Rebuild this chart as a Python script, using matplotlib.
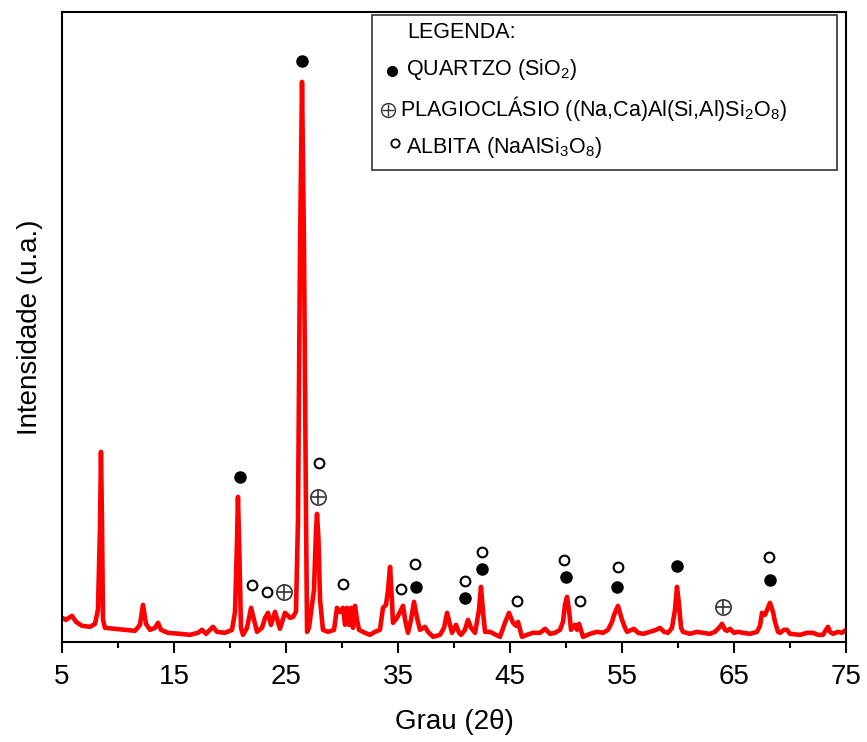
import numpy as np
import matplotlib
matplotlib.use('Agg')
import matplotlib.pyplot as plt
from matplotlib.patches import Rectangle

plt.rcParams['font.family'] = ['Liberation Sans', 'DejaVu Sans']
plt.rcParams['mathtext.fontset'] = 'custom'
plt.rcParams['mathtext.rm'] = 'Liberation Sans'
plt.rcParams['mathtext.it'] = 'Liberation Sans:italic'

# difratograma (2theta, intensidade u.a.)
two_theta = [5.0, 5.36, 5.89, 6.25, 6.79, 7.5, 7.95, 8.21, 8.39, 8.48, 8.57, 8.66, 8.84, 9.73,
             10.63, 11.52, 11.96, 12.23, 12.5, 12.86, 13.3, 13.57, 13.84, 14.46, 15.54, 16.43,
             17.14, 17.5, 17.86, 18.48, 18.84, 19.55, 20.18, 20.45, 20.63, 20.71, 20.85, 20.98,
             21.16, 21.52, 21.88, 22.14, 22.41, 22.86, 23.13, 23.39, 23.66, 24.02, 24.46, 24.91,
             25.36, 25.63, 25.89, 26.07, 26.25, 26.43, 26.61, 26.79, 26.88, 27.05, 27.32, 27.5,
             27.68, 27.77, 27.9, 28.04, 28.3, 28.75, 29.29, 29.55, 29.82, 30.09, 30.27, 30.45,
             30.63, 30.8, 30.98, 31.16, 31.34, 31.52, 32.05, 32.5, 32.95, 33.39, 33.66, 33.93,
             34.11, 34.29, 34.46, 34.55, 34.91, 35.18, 35.45, 35.63, 35.89, 36.16, 36.43, 36.7,
             36.96, 37.41, 37.68, 38.13, 38.75, 39.11, 39.38, 39.64, 39.82, 40.18, 40.45, 40.63,
             40.98, 41.25, 41.52, 41.88, 42.23, 42.41, 42.59, 42.77, 43.21, 43.75, 44.11, 44.55,
             44.91, 45.27, 45.54, 45.71, 46.07, 46.52, 47.05, 47.68, 48.13, 48.57, 49.02, 49.46,
             49.73, 49.91, 50.09, 50.27, 50.45, 50.8, 50.98, 51.16, 51.52, 52.14, 52.77, 53.3,
             53.75, 54.11, 54.29, 54.64, 55.0, 55.27, 55.45, 56.07, 56.43, 56.88, 57.5, 58.04,
             58.39, 58.75, 59.11, 59.46, 59.73, 59.91, 60.09, 60.27, 60.45, 61.07, 61.7, 62.23,
             62.86, 63.3, 63.66, 63.93, 64.2, 64.38, 64.64, 65.0, 65.36, 65.8, 66.43, 67.05,
             67.32, 67.5, 67.77, 67.95, 68.21, 68.48, 68.66, 68.93, 69.11, 69.46, 69.73, 70.0,
             70.89, 71.52, 72.05, 72.5, 72.95, 73.21, 73.39, 73.57, 73.84, 74.29, 74.64, 75.0]
intensity = [24, 22, 26, 20, 16, 15, 18, 32, 112, 190, 122, 22, 14, 13,
             12, 11, 17, 37, 18, 12, 14, 19, 12, 9, 8, 7,
             9, 12, 8, 15, 10, 9, 12, 30, 102, 145, 82, 14,
             7, 14, 34, 22, 10, 14, 24, 29, 17, 30, 13, 29,
             24, 25, 30, 122, 392, 560, 392, 122, 10, 14, 37, 52,
             112, 128, 102, 42, 12, 10, 12, 34, 30, 34, 17, 34,
             17, 34, 14, 36, 22, 12, 9, 7, 10, 12, 34, 37,
             52, 75, 42, 19, 24, 30, 36, 22, 9, 22, 40, 24,
             12, 15, 10, 5, 7, 14, 29, 17, 9, 17, 9, 7,
             12, 22, 14, 9, 32, 55, 30, 10, 10, 7, 5, 19,
             29, 19, 16, 20, 5, 7, 9, 9, 13, 8, 9, 12,
             20, 37, 45, 32, 12, 17, 12, 18, 5, 8, 10, 9,
             12, 20, 27, 36, 22, 14, 10, 13, 9, 8, 10, 12,
             14, 10, 9, 14, 32, 55, 37, 14, 10, 8, 10, 9,
             8, 10, 14, 18, 12, 11, 13, 9, 10, 9, 8, 10,
             16, 29, 27, 32, 39, 30, 20, 10, 9, 12, 12, 8,
             7, 9, 9, 7, 7, 12, 15, 10, 8, 10, 9, 12]

# picos identificados
quartzo_x = [20.89, 26.43, 36.61, 40.98, 42.5, 50.0, 54.55, 59.91, 68.21]
quartzo_y = [165, 581, 55, 44, 73, 65, 55, 76, 62]
albita_x = [21.96, 23.30, 27.95, 30.09, 35.27, 36.52, 40.98, 42.5, 45.63, 49.82, 51.25, 54.64, 68.13]
albita_y = [57, 50, 179, 58, 53, 78, 61, 90, 41, 82, 41, 75, 85]
plagio_x = [24.82, 27.86, 64.02]
plagio_y = [50, 145, 35]

fig = plt.figure(figsize=(8.67, 7.42), dpi=100)
ax = fig.add_axes([0.0715, 0.135, 0.9043, 0.849])

ax.plot(two_theta, intensity, color='red', lw=3.3, solid_joinstyle='round')

ax.plot(quartzo_x, quartzo_y, 'o', color='black', ms=8)
ax.plot(albita_x, albita_y, 'o', mfc='white', mec='black', ms=7, mew=1.5)
ax.plot(plagio_x, plagio_y, 'o', mfc='white', mec='#333333', ms=11, mew=1.2)
ax.plot(plagio_x, plagio_y, '+', color='#333333', ms=10, mew=1.2)

ax.set_xlim(5, 75)
ax.set_ylim(0, 630)
ax.set_xticks(np.arange(5, 76, 10))
ax.set_xticks(np.arange(10, 75, 10), minor=True)
ax.set_yticks([])
ax.tick_params(axis='x', which='major', direction='out', length=8, width=1.5, labelsize=20, pad=8)
ax.tick_params(axis='x', which='minor', direction='out', length=4, width=1.5)
for s in ax.spines.values():
    s.set_linewidth(1.5)

ax.set_xlabel('Grau (2θ)', fontsize=20, labelpad=14)
ax.set_ylabel('Intensidade (u.a.)', fontsize=20, labelpad=14)

# caixa de legenda
ax.add_patch(Rectangle((0.395, 0.749), 0.5935, 0.246, transform=ax.transAxes,
                       fill=False, ec='#333333', lw=1.2, clip_on=False))
ax.text(0.441, 0.968, 'LEGENDA:', transform=ax.transAxes, fontsize=15.5, va='center')
ax.plot([0.421], [0.906], 'o', color='black', ms=7, transform=ax.transAxes, clip_on=False)
ax.text(0.439, 0.908, 'QUARTZO (SiO$_2$)', transform=ax.transAxes, fontsize=15.5, va='center')
ax.plot([0.416], [0.844], 'o', mfc='white', mec='#333333', ms=10, mew=1,
        transform=ax.transAxes, clip_on=False)
ax.plot([0.416], [0.844], '+', color='#333333', ms=9, mew=1, transform=ax.transAxes, clip_on=False)
ax.text(0.431, 0.846, 'PLAGIOCLÁSIO ((Na,Ca)Al(Si,Al)Si$_2$O$_8$)', transform=ax.transAxes,
        fontsize=15.5, va='center')
ax.plot([0.425], [0.792], 'o', mfc='white', mec='black', ms=6, mew=1.3,
        transform=ax.transAxes, clip_on=False)
ax.text(0.439, 0.784, 'ALBITA (NaAlSi$_3$O$_8$)', transform=ax.transAxes, fontsize=15.5, va='center')

plt.savefig('out.png', dpi=100)
